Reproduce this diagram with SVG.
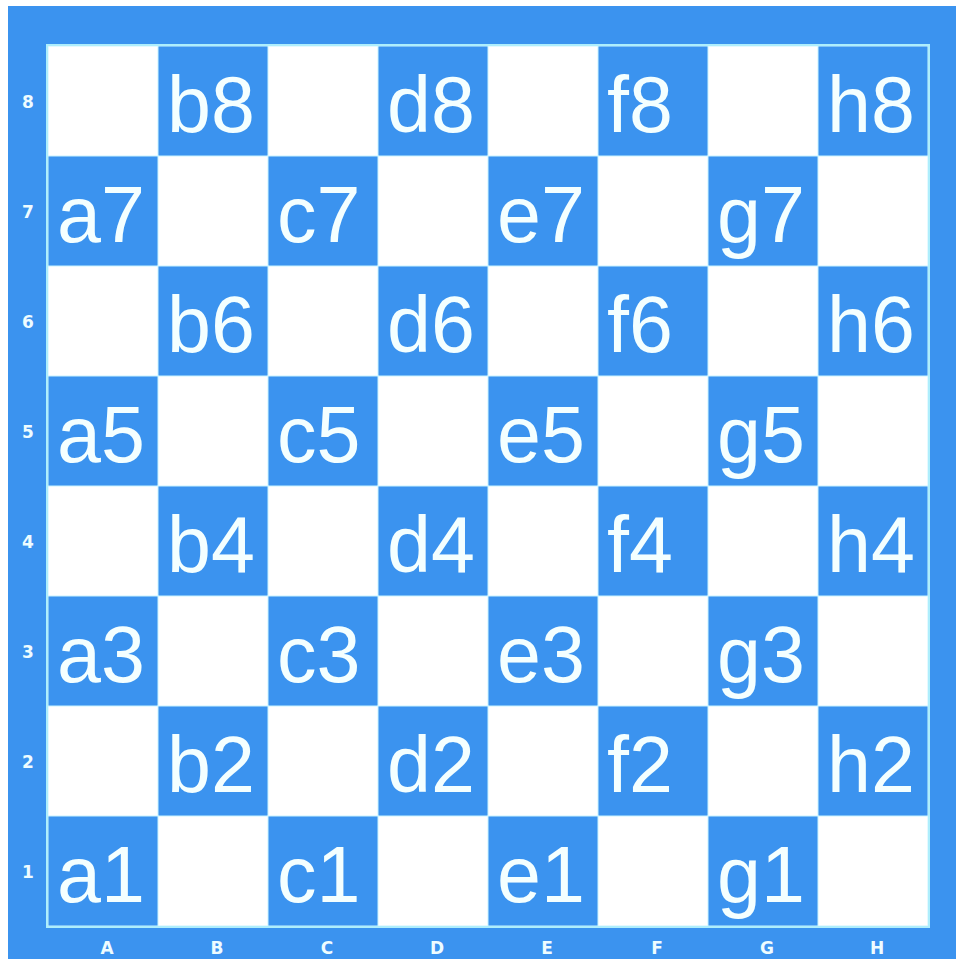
<svg xmlns="http://www.w3.org/2000/svg" width="956" height="959" viewBox="0 0 956 959">
<style>
.bg{fill:#3b93ef}
.w{fill:#ffffff;stroke:#c9f3ff;stroke-width:1}
.b{fill:#3b93ef;stroke:#c9f3ff;stroke-width:1}
.lbl{font-family:"Liberation Sans",Arial,sans-serif;font-size:79px;fill:#f4ffff}
.coord{font-family:"DejaVu Sans",Verdana,sans-serif;font-weight:bold;font-size:17px;fill:#eefcff;text-anchor:middle}
.frame{fill:none;stroke:#aeeefc;stroke-width:2}
</style>
<rect x="0" y="0" width="956" height="959" fill="#ffffff"/>
<rect class="bg" x="8" y="6" width="948" height="953"/>
<g id="board">
<rect class="w" x="48" y="46" width="880" height="880"/>
</g>
<g id="sq-b8"><rect class="b" x="158" y="46" width="110" height="110"/><text class="lbl" x="167" y="132">b8</text></g>
<g id="sq-d8"><rect class="b" x="378" y="46" width="110" height="110"/><text class="lbl" x="387" y="132">d8</text></g>
<g id="sq-f8"><rect class="b" x="598" y="46" width="110" height="110"/><text class="lbl" x="607" y="132">f8</text></g>
<g id="sq-h8"><rect class="b" x="818" y="46" width="110" height="110"/><text class="lbl" x="827" y="132">h8</text></g>
<g id="sq-a7"><rect class="b" x="48" y="156" width="110" height="110"/><text class="lbl" x="57" y="242">a7</text></g>
<g id="sq-c7"><rect class="b" x="268" y="156" width="110" height="110"/><text class="lbl" x="277" y="242">c7</text></g>
<g id="sq-e7"><rect class="b" x="488" y="156" width="110" height="110"/><text class="lbl" x="497" y="242">e7</text></g>
<g id="sq-g7"><rect class="b" x="708" y="156" width="110" height="110"/><text class="lbl" x="717" y="242">g7</text></g>
<g id="sq-b6"><rect class="b" x="158" y="266" width="110" height="110"/><text class="lbl" x="167" y="352">b6</text></g>
<g id="sq-d6"><rect class="b" x="378" y="266" width="110" height="110"/><text class="lbl" x="387" y="352">d6</text></g>
<g id="sq-f6"><rect class="b" x="598" y="266" width="110" height="110"/><text class="lbl" x="607" y="352">f6</text></g>
<g id="sq-h6"><rect class="b" x="818" y="266" width="110" height="110"/><text class="lbl" x="827" y="352">h6</text></g>
<g id="sq-a5"><rect class="b" x="48" y="376" width="110" height="110"/><text class="lbl" x="57" y="462">a5</text></g>
<g id="sq-c5"><rect class="b" x="268" y="376" width="110" height="110"/><text class="lbl" x="277" y="462">c5</text></g>
<g id="sq-e5"><rect class="b" x="488" y="376" width="110" height="110"/><text class="lbl" x="497" y="462">e5</text></g>
<g id="sq-g5"><rect class="b" x="708" y="376" width="110" height="110"/><text class="lbl" x="717" y="462">g5</text></g>
<g id="sq-b4"><rect class="b" x="158" y="486" width="110" height="110"/><text class="lbl" x="167" y="572">b4</text></g>
<g id="sq-d4"><rect class="b" x="378" y="486" width="110" height="110"/><text class="lbl" x="387" y="572">d4</text></g>
<g id="sq-f4"><rect class="b" x="598" y="486" width="110" height="110"/><text class="lbl" x="607" y="572">f4</text></g>
<g id="sq-h4"><rect class="b" x="818" y="486" width="110" height="110"/><text class="lbl" x="827" y="572">h4</text></g>
<g id="sq-a3"><rect class="b" x="48" y="596" width="110" height="110"/><text class="lbl" x="57" y="682">a3</text></g>
<g id="sq-c3"><rect class="b" x="268" y="596" width="110" height="110"/><text class="lbl" x="277" y="682">c3</text></g>
<g id="sq-e3"><rect class="b" x="488" y="596" width="110" height="110"/><text class="lbl" x="497" y="682">e3</text></g>
<g id="sq-g3"><rect class="b" x="708" y="596" width="110" height="110"/><text class="lbl" x="717" y="682">g3</text></g>
<g id="sq-b2"><rect class="b" x="158" y="706" width="110" height="110"/><text class="lbl" x="167" y="792">b2</text></g>
<g id="sq-d2"><rect class="b" x="378" y="706" width="110" height="110"/><text class="lbl" x="387" y="792">d2</text></g>
<g id="sq-f2"><rect class="b" x="598" y="706" width="110" height="110"/><text class="lbl" x="607" y="792">f2</text></g>
<g id="sq-h2"><rect class="b" x="818" y="706" width="110" height="110"/><text class="lbl" x="827" y="792">h2</text></g>
<g id="sq-a1"><rect class="b" x="48" y="816" width="110" height="110"/><text class="lbl" x="57" y="902">a1</text></g>
<g id="sq-c1"><rect class="b" x="268" y="816" width="110" height="110"/><text class="lbl" x="277" y="902">c1</text></g>
<g id="sq-e1"><rect class="b" x="488" y="816" width="110" height="110"/><text class="lbl" x="497" y="902">e1</text></g>
<g id="sq-g1"><rect class="b" x="708" y="816" width="110" height="110"/><text class="lbl" x="717" y="902">g1</text></g>
<rect class="frame" x="47" y="45" width="882" height="882"/>
<g id="ranks">
<text class="coord" x="28" y="108">8</text>
<text class="coord" x="28" y="218">7</text>
<text class="coord" x="28" y="328">6</text>
<text class="coord" x="28" y="438">5</text>
<text class="coord" x="28" y="548">4</text>
<text class="coord" x="28" y="658">3</text>
<text class="coord" x="28" y="768">2</text>
<text class="coord" x="28" y="878">1</text>
</g>
<g id="files">
<text class="coord" x="107" y="954">A</text>
<text class="coord" x="217" y="954">B</text>
<text class="coord" x="327" y="954">C</text>
<text class="coord" x="437" y="954">D</text>
<text class="coord" x="547" y="954">E</text>
<text class="coord" x="657" y="954">F</text>
<text class="coord" x="767" y="954">G</text>
<text class="coord" x="877" y="954">H</text>
</g>
</svg>
